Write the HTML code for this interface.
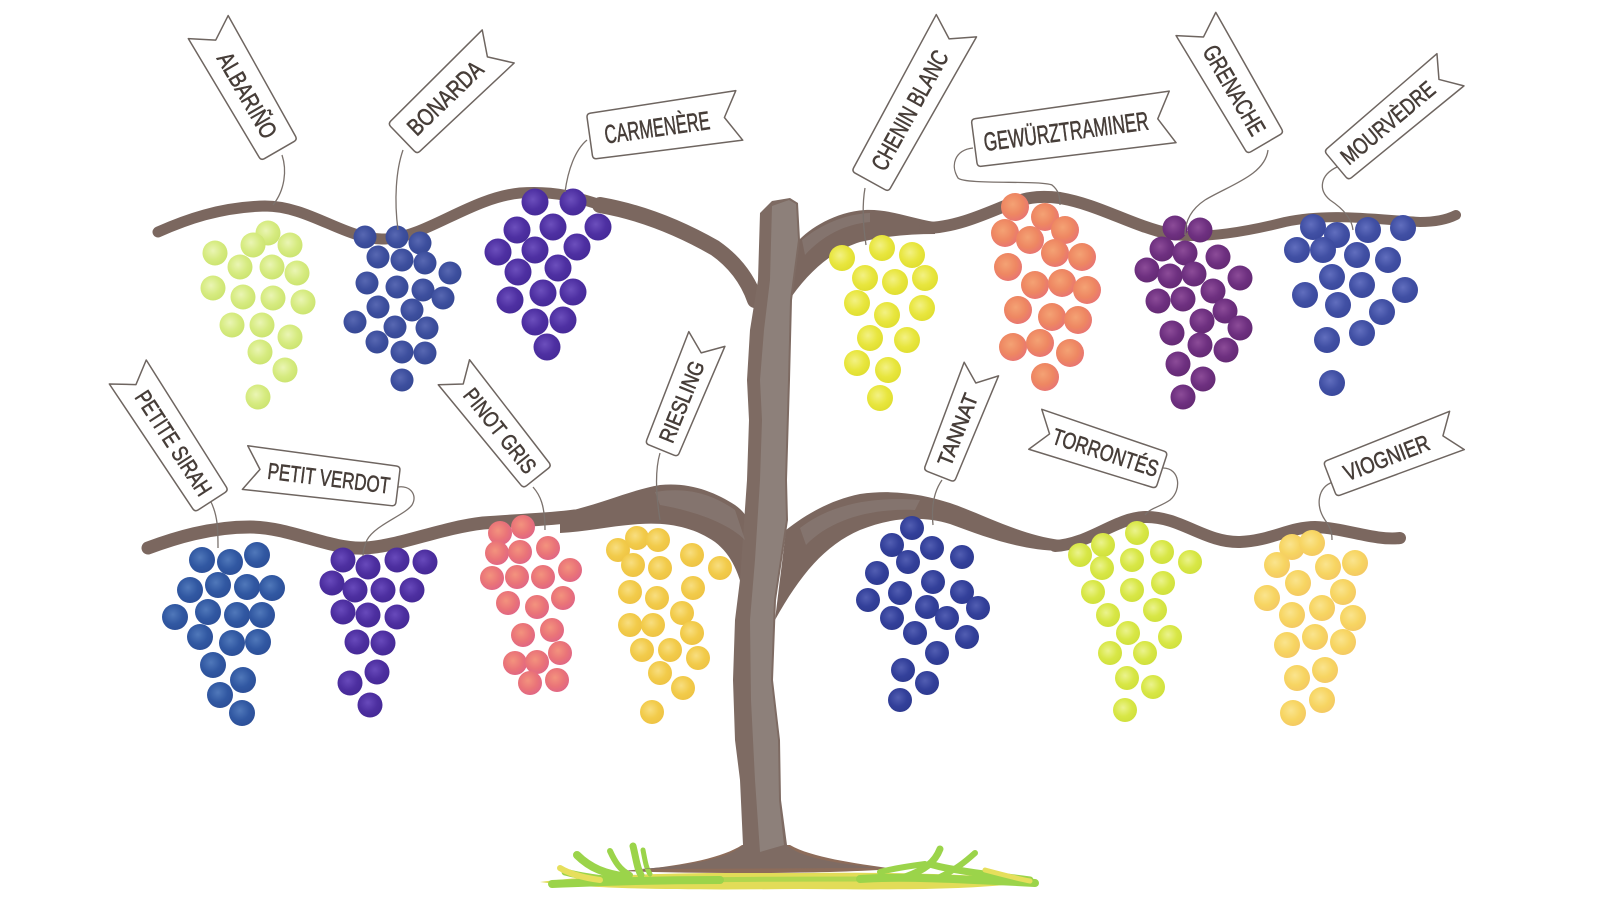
<!DOCTYPE html>
<html><head><meta charset="utf-8"><style>
html,body{margin:0;padding:0;background:#fff;}
svg{display:block;}
.lbl text{font-family:"Liberation Sans Narrow","Liberation Sans",sans-serif;fill:#463d38;stroke:#463d38;stroke-width:0.55;text-anchor:middle;}
.ban{fill:#fff;stroke:#6e6560;stroke-width:1.5;stroke-linejoin:round;}
.str{fill:none;stroke:#7a716c;stroke-width:1.3;}
.br{fill:none;stroke:#7b675f;stroke-linecap:round;stroke-linejoin:round;}
</style></head><body>
<svg width="1600" height="900" viewBox="0 0 1600 900" xmlns="http://www.w3.org/2000/svg">
<defs>
<radialGradient id="g1" cx="0.42" cy="0.4" r="0.62"><stop offset="0" stop-color="#eaf5b4"/><stop offset="0.6" stop-color="#d6eb80"/><stop offset="1" stop-color="#cce470"/></radialGradient>
<radialGradient id="g2" cx="0.42" cy="0.4" r="0.62"><stop offset="0" stop-color="#5868b2"/><stop offset="0.6" stop-color="#3d4f9e"/><stop offset="1" stop-color="#364894"/></radialGradient>
<radialGradient id="g3" cx="0.42" cy="0.4" r="0.62"><stop offset="0" stop-color="#6c4fbc"/><stop offset="0.6" stop-color="#4e30a2"/><stop offset="1" stop-color="#462a98"/></radialGradient>
<radialGradient id="g4" cx="0.42" cy="0.4" r="0.62"><stop offset="0" stop-color="#f3f184"/><stop offset="0.6" stop-color="#e8e63e"/><stop offset="1" stop-color="#e0de30"/></radialGradient>
<radialGradient id="g5" cx="0.42" cy="0.4" r="0.62"><stop offset="0" stop-color="#f4a274"/><stop offset="0.6" stop-color="#ee8762"/><stop offset="1" stop-color="#e87572"/></radialGradient>
<radialGradient id="g6" cx="0.42" cy="0.4" r="0.62"><stop offset="0" stop-color="#8c4c98"/><stop offset="0.6" stop-color="#6e3080"/><stop offset="1" stop-color="#642a74"/></radialGradient>
<radialGradient id="g7" cx="0.42" cy="0.4" r="0.62"><stop offset="0" stop-color="#616ebe"/><stop offset="0.6" stop-color="#4150a4"/><stop offset="1" stop-color="#3a489c"/></radialGradient>
<radialGradient id="g8" cx="0.42" cy="0.4" r="0.62"><stop offset="0" stop-color="#5078ba"/><stop offset="0.6" stop-color="#3158a2"/><stop offset="1" stop-color="#2c4f98"/></radialGradient>
<radialGradient id="g9" cx="0.42" cy="0.4" r="0.62"><stop offset="0" stop-color="#684abb"/><stop offset="0.6" stop-color="#4d2fa0"/><stop offset="1" stop-color="#452996"/></radialGradient>
<radialGradient id="g10" cx="0.42" cy="0.4" r="0.62"><stop offset="0" stop-color="#f3937e"/><stop offset="0.6" stop-color="#ea7478"/><stop offset="1" stop-color="#e06684"/></radialGradient>
<radialGradient id="g11" cx="0.42" cy="0.4" r="0.62"><stop offset="0" stop-color="#f8de80"/><stop offset="0.6" stop-color="#f2cb4a"/><stop offset="1" stop-color="#eec344"/></radialGradient>
<radialGradient id="g12" cx="0.42" cy="0.4" r="0.62"><stop offset="0" stop-color="#525eb2"/><stop offset="0.6" stop-color="#33409a"/><stop offset="1" stop-color="#2e3a90"/></radialGradient>
<radialGradient id="g13" cx="0.42" cy="0.4" r="0.62"><stop offset="0" stop-color="#ebf38e"/><stop offset="0.6" stop-color="#d8e746"/><stop offset="1" stop-color="#d0e03c"/></radialGradient>
<radialGradient id="g14" cx="0.42" cy="0.4" r="0.62"><stop offset="0" stop-color="#fae48e"/><stop offset="0.6" stop-color="#f7d562"/><stop offset="1" stop-color="#f4c962"/></radialGradient>
</defs>

<!-- ground -->
<path d="M540,882 C600,874 700,872 800,873 C900,872 980,874 1038,881 C980,890 900,890 800,889 C700,890 600,890 540,882 Z" fill="#e2dc58"/>
<path d="M620,871 C680,867 722,858 742,845 L790,845 C812,858 860,864 895,869 C820,874 700,874 620,871 Z" fill="#8d6c5a"/>
<g fill="none" stroke="#9bd44a" stroke-linecap="round">
<path d="M552,884 C600,882 650,880 720,880" stroke-width="8"/>
<path d="M565,872 C580,876 600,879 620,880" stroke-width="7"/>
<path d="M577,855 C590,868 605,874 628,877" stroke-width="8"/>
<path d="M610,851 C615,862 620,870 630,875" stroke-width="6"/>
<path d="M633,846 C636,858 637,868 641,875" stroke-width="7"/>
<path d="M643,850 C645,860 646,868 650,874" stroke-width="5"/>
<path d="M940,849 C935,862 925,870 905,877" stroke-width="7"/>
<path d="M975,853 C965,862 955,870 940,877" stroke-width="6"/>
<path d="M930,864 C945,869 975,873 1030,880" stroke-width="7"/>
<path d="M860,879 C900,876 960,879 1035,883" stroke-width="8"/>
<path d="M880,872 C895,868 910,866 925,864" stroke-width="6"/>
<path d="M700,880 C760,879 820,879 860,879" stroke-width="5" opacity="0.7"/>
</g>
<g fill="none" stroke="#e6df5c" stroke-linecap="round">
<path d="M560,868 C570,874 585,878 600,880" stroke-width="6"/>
<path d="M985,870 C1000,874 1015,878 1030,881" stroke-width="5"/>
</g>

<!-- branches -->
<path class="br" stroke-width="11" d="M158,232 C185,220 220,207 265,206 C310,206 345,240 385,239 C425,238 470,198 520,193 C560,190 585,200 610,208"/>
<path class="br" stroke-width="16" d="M600,205 C640,212 680,228 715,248 C735,262 748,280 755,300"/>
<path fill="#7b675f" d="M797,242 C810,228 835,212 865,210 C890,209 910,218 935,222 L935,234 C910,234 885,236 860,242 C835,250 812,268 792,296 Z"/>
<path class="br" stroke-width="12" d="M925,228 C955,228 985,214 1012,203 C1030,196 1045,196 1060,198 C1100,205 1130,225 1170,234"/>
<path class="br" stroke-width="10" d="M1165,234 C1200,240 1245,232 1285,222 C1330,212 1380,220 1420,222 C1440,222 1450,218 1456,215"/>
<path class="br" stroke-width="13" d="M148,548 C175,538 210,527 250,527 C290,527 330,550 365,548 C400,546 440,528 483,523 C520,520 545,520 575,516"/>
<path fill="#7b675f" d="M560,513 C600,505 630,490 660,485 C690,482 715,492 735,505 C742,510 746,515 748,520 L745,600 C740,575 732,555 715,542 C695,528 670,522 640,524 C610,526 585,532 560,533 Z"/>
<path fill="#7b675f" d="M786,530 C805,515 830,500 860,494 C895,489 925,495 950,503 C980,513 1020,535 1060,540 L1060,551 C1020,550 985,537 950,524 C920,515 890,518 860,530 C825,545 800,575 775,620 Z"/>
<path class="br" stroke-width="12" d="M1055,546 C1090,544 1115,518 1145,517 C1180,516 1205,543 1240,542 C1270,541 1290,527 1315,527 C1345,528 1375,541 1400,538"/>

<!-- trunk -->
<path fill="#7e6b63" d="M760,213 L772,201 L790,198 L798,203 L800,240 L792,300 L790,380 L787,480 L788,520 L776,600 L773,680 L780,740 L781,800 L787,845 C800,858 840,864 880,868 L640,869 C690,866 730,858 743,845 L740,780 L735,740 L733,680 L735,620 L740,580 L747,480 L749,420 L747,380 L750,330 L758,280 Z"/>
<path fill="#8d807a" d="M772,206 L789,200 L796,204 L798,240 L790,300 L788,380 L785,480 L786,520 L774,600 L771,680 L778,740 L779,800 L784,845 L760,852 L755,780 L751,700 L750,620 L755,560 L760,480 L762,420 L760,380 L764,330 L770,280 Z"/>
<path fill="#897b75" d="M655,492 C690,486 715,496 735,510 L745,540 C730,525 700,512 660,505 Z" opacity="0.7"/>
<path fill="#897b75" d="M800,528 C830,505 870,496 920,500 L915,510 C870,508 830,520 806,545 Z" opacity="0.7"/>
<path fill="#897b75" d="M802,240 C820,225 845,214 870,213 L870,222 C845,224 822,236 805,255 Z" opacity="0.7"/>

<!-- grapes -->
<g fill="url(#g1)">
<circle cx="268" cy="233" r="12.5"/><circle cx="253" cy="245" r="12.5"/><circle cx="290" cy="245" r="12.5"/><circle cx="215" cy="253" r="12.5"/><circle cx="240" cy="267" r="12.5"/><circle cx="272" cy="267" r="12.5"/><circle cx="297" cy="273" r="12.5"/><circle cx="213" cy="288" r="12.5"/><circle cx="243" cy="297" r="12.5"/><circle cx="273" cy="298" r="12.5"/><circle cx="303" cy="302" r="12.5"/><circle cx="232" cy="325" r="12.5"/><circle cx="262" cy="325" r="12.5"/><circle cx="290" cy="337" r="12.5"/><circle cx="260" cy="352" r="12.5"/><circle cx="285" cy="370" r="12.5"/><circle cx="258" cy="397" r="12.5"/>
</g>
<g fill="url(#g2)">
<circle cx="365" cy="237" r="11.5"/><circle cx="397" cy="237" r="11.5"/><circle cx="420" cy="243" r="11.5"/><circle cx="378" cy="257" r="11.5"/><circle cx="402" cy="260" r="11.5"/><circle cx="425" cy="263" r="11.5"/><circle cx="450" cy="273" r="11.5"/><circle cx="367" cy="283" r="11.5"/><circle cx="397" cy="287" r="11.5"/><circle cx="423" cy="290" r="11.5"/><circle cx="443" cy="298" r="11.5"/><circle cx="378" cy="307" r="11.5"/><circle cx="412" cy="310" r="11.5"/><circle cx="355" cy="322" r="11.5"/><circle cx="395" cy="327" r="11.5"/><circle cx="427" cy="328" r="11.5"/><circle cx="377" cy="342" r="11.5"/><circle cx="402" cy="352" r="11.5"/><circle cx="425" cy="353" r="11.5"/><circle cx="402" cy="380" r="11.5"/>
</g>
<g fill="url(#g3)">
<circle cx="535" cy="202" r="13.5"/><circle cx="573" cy="202" r="13.5"/><circle cx="598" cy="227" r="13.5"/><circle cx="517" cy="230" r="13.5"/><circle cx="553" cy="227" r="13.5"/><circle cx="498" cy="252" r="13.5"/><circle cx="535" cy="250" r="13.5"/><circle cx="577" cy="247" r="13.5"/><circle cx="518" cy="272" r="13.5"/><circle cx="558" cy="268" r="13.5"/><circle cx="510" cy="300" r="13.5"/><circle cx="543" cy="293" r="13.5"/><circle cx="573" cy="292" r="13.5"/><circle cx="535" cy="322" r="13.5"/><circle cx="563" cy="320" r="13.5"/><circle cx="547" cy="347" r="13.5"/>
</g>
<g fill="url(#g4)">
<circle cx="842" cy="258" r="13"/><circle cx="882" cy="248" r="13"/><circle cx="912" cy="255" r="13"/><circle cx="865" cy="278" r="13"/><circle cx="895" cy="282" r="13"/><circle cx="925" cy="278" r="13"/><circle cx="857" cy="303" r="13"/><circle cx="887" cy="315" r="13"/><circle cx="922" cy="308" r="13"/><circle cx="870" cy="338" r="13"/><circle cx="907" cy="340" r="13"/><circle cx="857" cy="363" r="13"/><circle cx="888" cy="370" r="13"/><circle cx="880" cy="398" r="13"/>
</g>
<g fill="url(#g5)">
<circle cx="1015" cy="207" r="14"/><circle cx="1045" cy="217" r="14"/><circle cx="1065" cy="230" r="14"/><circle cx="1005" cy="233" r="14"/><circle cx="1030" cy="240" r="14"/><circle cx="1055" cy="253" r="14"/><circle cx="1082" cy="257" r="14"/><circle cx="1008" cy="267" r="14"/><circle cx="1035" cy="285" r="14"/><circle cx="1062" cy="283" r="14"/><circle cx="1087" cy="290" r="14"/><circle cx="1018" cy="310" r="14"/><circle cx="1052" cy="317" r="14"/><circle cx="1078" cy="320" r="14"/><circle cx="1013" cy="347" r="14"/><circle cx="1040" cy="343" r="14"/><circle cx="1070" cy="353" r="14"/><circle cx="1045" cy="377" r="14"/>
</g>
<g fill="url(#g6)">
<circle cx="1175" cy="228" r="12.5"/><circle cx="1200" cy="230" r="12.5"/><circle cx="1147" cy="270" r="12.5"/><circle cx="1162" cy="249" r="12.5"/><circle cx="1185" cy="253" r="12.5"/><circle cx="1218" cy="257" r="12.5"/><circle cx="1240" cy="278" r="12.5"/><circle cx="1170" cy="276" r="12.5"/><circle cx="1194" cy="274" r="12.5"/><circle cx="1213" cy="291" r="12.5"/><circle cx="1158" cy="301" r="12.5"/><circle cx="1183" cy="299" r="12.5"/><circle cx="1225" cy="311" r="12.5"/><circle cx="1240" cy="328" r="12.5"/><circle cx="1202" cy="321" r="12.5"/><circle cx="1172" cy="333" r="12.5"/><circle cx="1200" cy="345" r="12.5"/><circle cx="1226" cy="350" r="12.5"/><circle cx="1178" cy="364" r="12.5"/><circle cx="1203" cy="379" r="12.5"/><circle cx="1183" cy="397" r="12.5"/>
</g>
<g fill="url(#g7)">
<circle cx="1313" cy="227" r="13"/><circle cx="1337" cy="235" r="13"/><circle cx="1368" cy="230" r="13"/><circle cx="1403" cy="228" r="13"/><circle cx="1297" cy="250" r="13"/><circle cx="1323" cy="250" r="13"/><circle cx="1357" cy="255" r="13"/><circle cx="1388" cy="260" r="13"/><circle cx="1332" cy="277" r="13"/><circle cx="1362" cy="285" r="13"/><circle cx="1405" cy="290" r="13"/><circle cx="1305" cy="295" r="13"/><circle cx="1338" cy="305" r="13"/><circle cx="1382" cy="312" r="13"/><circle cx="1327" cy="340" r="13"/><circle cx="1362" cy="333" r="13"/><circle cx="1332" cy="383" r="13"/>
</g>
<g fill="url(#g8)">
<circle cx="202" cy="560" r="13"/><circle cx="230" cy="562" r="13"/><circle cx="257" cy="555" r="13"/><circle cx="190" cy="590" r="13"/><circle cx="218" cy="585" r="13"/><circle cx="247" cy="587" r="13"/><circle cx="272" cy="588" r="13"/><circle cx="175" cy="617" r="13"/><circle cx="208" cy="612" r="13"/><circle cx="237" cy="615" r="13"/><circle cx="262" cy="615" r="13"/><circle cx="200" cy="637" r="13"/><circle cx="232" cy="643" r="13"/><circle cx="258" cy="642" r="13"/><circle cx="213" cy="665" r="13"/><circle cx="243" cy="680" r="13"/><circle cx="220" cy="695" r="13"/><circle cx="242" cy="713" r="13"/>
</g>
<g fill="url(#g9)">
<circle cx="343" cy="560" r="12.5"/><circle cx="368" cy="567" r="12.5"/><circle cx="397" cy="560" r="12.5"/><circle cx="425" cy="562" r="12.5"/><circle cx="332" cy="583" r="12.5"/><circle cx="355" cy="590" r="12.5"/><circle cx="383" cy="590" r="12.5"/><circle cx="412" cy="590" r="12.5"/><circle cx="343" cy="612" r="12.5"/><circle cx="368" cy="615" r="12.5"/><circle cx="397" cy="617" r="12.5"/><circle cx="357" cy="642" r="12.5"/><circle cx="383" cy="643" r="12.5"/><circle cx="377" cy="672" r="12.5"/><circle cx="350" cy="683" r="12.5"/><circle cx="370" cy="705" r="12.5"/>
</g>
<g fill="url(#g10)">
<circle cx="500" cy="533" r="12"/><circle cx="523" cy="527" r="12"/><circle cx="497" cy="553" r="12"/><circle cx="520" cy="552" r="12"/><circle cx="548" cy="548" r="12"/><circle cx="492" cy="578" r="12"/><circle cx="517" cy="577" r="12"/><circle cx="543" cy="577" r="12"/><circle cx="570" cy="570" r="12"/><circle cx="508" cy="603" r="12"/><circle cx="537" cy="607" r="12"/><circle cx="563" cy="598" r="12"/><circle cx="523" cy="635" r="12"/><circle cx="552" cy="630" r="12"/><circle cx="515" cy="663" r="12"/><circle cx="537" cy="662" r="12"/><circle cx="560" cy="653" r="12"/><circle cx="530" cy="683" r="12"/><circle cx="557" cy="680" r="12"/>
</g>
<g fill="url(#g11)">
<circle cx="618" cy="550" r="12"/><circle cx="637" cy="538" r="12"/><circle cx="658" cy="540" r="12"/><circle cx="692" cy="555" r="12"/><circle cx="720" cy="568" r="12"/><circle cx="633" cy="565" r="12"/><circle cx="660" cy="568" r="12"/><circle cx="630" cy="592" r="12"/><circle cx="657" cy="598" r="12"/><circle cx="693" cy="588" r="12"/><circle cx="630" cy="625" r="12"/><circle cx="653" cy="625" r="12"/><circle cx="682" cy="613" r="12"/><circle cx="692" cy="633" r="12"/><circle cx="642" cy="650" r="12"/><circle cx="670" cy="650" r="12"/><circle cx="698" cy="658" r="12"/><circle cx="660" cy="673" r="12"/><circle cx="683" cy="688" r="12"/><circle cx="652" cy="712" r="12"/>
</g>
<g fill="url(#g12)">
<circle cx="912" cy="528" r="12"/><circle cx="892" cy="545" r="12"/><circle cx="932" cy="548" r="12"/><circle cx="962" cy="557" r="12"/><circle cx="908" cy="562" r="12"/><circle cx="877" cy="573" r="12"/><circle cx="933" cy="582" r="12"/><circle cx="962" cy="592" r="12"/><circle cx="868" cy="600" r="12"/><circle cx="900" cy="593" r="12"/><circle cx="927" cy="607" r="12"/><circle cx="947" cy="618" r="12"/><circle cx="978" cy="608" r="12"/><circle cx="892" cy="618" r="12"/><circle cx="915" cy="633" r="12"/><circle cx="967" cy="637" r="12"/><circle cx="937" cy="653" r="12"/><circle cx="903" cy="670" r="12"/><circle cx="927" cy="683" r="12"/><circle cx="900" cy="700" r="12"/>
</g>
<g fill="url(#g13)">
<circle cx="1080" cy="555" r="12"/><circle cx="1103" cy="545" r="12"/><circle cx="1137" cy="533" r="12"/><circle cx="1162" cy="552" r="12"/><circle cx="1190" cy="562" r="12"/><circle cx="1102" cy="568" r="12"/><circle cx="1132" cy="560" r="12"/><circle cx="1093" cy="592" r="12"/><circle cx="1132" cy="590" r="12"/><circle cx="1163" cy="583" r="12"/><circle cx="1108" cy="615" r="12"/><circle cx="1155" cy="610" r="12"/><circle cx="1128" cy="633" r="12"/><circle cx="1170" cy="637" r="12"/><circle cx="1110" cy="653" r="12"/><circle cx="1145" cy="653" r="12"/><circle cx="1127" cy="678" r="12"/><circle cx="1153" cy="687" r="12"/><circle cx="1125" cy="710" r="12"/>
</g>
<g fill="url(#g14)">
<circle cx="1292" cy="547" r="13"/><circle cx="1312" cy="543" r="13"/><circle cx="1277" cy="565" r="13"/><circle cx="1328" cy="567" r="13"/><circle cx="1355" cy="563" r="13"/><circle cx="1298" cy="583" r="13"/><circle cx="1343" cy="592" r="13"/><circle cx="1267" cy="598" r="13"/><circle cx="1292" cy="615" r="13"/><circle cx="1322" cy="608" r="13"/><circle cx="1353" cy="618" r="13"/><circle cx="1287" cy="645" r="13"/><circle cx="1315" cy="637" r="13"/><circle cx="1343" cy="642" r="13"/><circle cx="1297" cy="678" r="13"/><circle cx="1325" cy="670" r="13"/><circle cx="1293" cy="713" r="13"/><circle cx="1322" cy="700" r="13"/>
</g>

<!-- strings -->
<path class="str" d="M282,155 C287,170 285,190 273,205"/>
<path class="str" d="M403,150 C396,170 394,200 398,230"/>
<path class="str" d="M587,140 C575,150 568,170 565,192"/>
<path class="str" d="M865,188 C862,205 863,225 866,245"/>
<path class="str" d="M973,148 C955,150 950,165 958,178 C965,185 1040,180 1052,185 C1058,190 1060,195 1060,205"/>
<path class="str" d="M1268,150 C1265,175 1230,185 1205,200 C1190,210 1185,222 1185,235"/>
<path class="str" d="M1337,167 C1320,175 1318,190 1330,200 C1345,210 1352,220 1353,230"/>
<path class="str" d="M210,500 C218,515 218,530 218,548"/>
<path class="str" d="M398,487 C410,485 418,495 412,505 C405,515 375,525 367,540 C364,547 363,552 363,556"/>
<path class="str" d="M533,487 C540,495 545,505 545,530"/>
<path class="str" d="M660,453 C655,470 656,495 660,520"/>
<path class="str" d="M942,480 C935,490 931,505 933,525"/>
<path class="str" d="M1163,468 C1180,468 1182,490 1170,500 C1160,507 1150,508 1145,515"/>
<path class="str" d="M1333,482 C1318,487 1315,505 1325,520 C1331,528 1332,533 1332,540"/>

<!-- labels -->
<g class="lbl">
<g transform="translate(244,89) rotate(60)">
<path class="ban" d="M66.5,-21 L-71.5,-23 L-56.5,0 L-71.5,23 L66.5,21 Q70.5,21 70.5,17 L70.5,-17 Q70.5,-21 66.5,-21 Z"/>
<text x="7" y="8.6" font-size="24" textLength="95" lengthAdjust="spacingAndGlyphs">ALBARIÑO</text></g>
<g transform="translate(450,93) rotate(-44)">
<path class="ban" d="M-62,-21 L67,-23 L52,0 L67,23 L-62,21 Q-66,21 -66,17 L-66,-17 Q-66,-21 -62,-21 Z"/>
<text x="-7" y="8.6" font-size="24" textLength="95" lengthAdjust="spacingAndGlyphs">BONARDA</text></g>
<g transform="translate(664,126) rotate(-8)">
<path class="ban" d="M-71,-23 L76,-25 L61,0 L76,25 L-71,23 Q-75,23 -75,19 L-75,-19 Q-75,-23 -71,-23 Z"/>
<text x="-7" y="9.4" font-size="26" textLength="106" lengthAdjust="spacingAndGlyphs">CARMENÈRE</text></g>
<g transform="translate(913,104) rotate(-61)">
<path class="ban" d="M-84.5,-21 L89.5,-23 L74.5,0 L89.5,23 L-84.5,21 Q-88.5,21 -88.5,17 L-88.5,-17 Q-88.5,-21 -84.5,-21 Z"/>
<text x="-7" y="8.6" font-size="24" textLength="133" lengthAdjust="spacingAndGlyphs">CHENIN BLANC</text></g>
<g transform="translate(1073,130) rotate(-7.5)">
<path class="ban" d="M-95.5,-24 L100.5,-26 L85.5,0 L100.5,26 L-95.5,24 Q-99.5,24 -99.5,20 L-99.5,-20 Q-99.5,-24 -95.5,-24 Z"/>
<text x="-7" y="9.4" font-size="26" textLength="166" lengthAdjust="spacingAndGlyphs">GEWÜRZTRAMINER</text></g>
<g transform="translate(1231,84) rotate(59.7)">
<path class="ban" d="M64.5,-21 L-69.5,-23 L-54.5,0 L-69.5,23 L64.5,21 Q68.5,21 68.5,17 L68.5,-17 Q68.5,-21 64.5,-21 Z"/>
<text x="7" y="8.6" font-size="24" textLength="100" lengthAdjust="spacingAndGlyphs">GRENACHE</text></g>
<g transform="translate(1393,118) rotate(-40)">
<path class="ban" d="M-70,-19 L75,-21 L60,0 L75,21 L-70,19 Q-74,19 -74,15 L-74,-15 Q-74,-19 -70,-19 Z"/>
<text x="-7" y="8.3" font-size="23" textLength="115" lengthAdjust="spacingAndGlyphs">MOURVÈDRE</text></g>
<g transform="translate(170,437) rotate(57)">
<path class="ban" d="M72.5,-20 L-77.5,-22 L-62.5,0 L-77.5,22 L72.5,20 Q76.5,20 76.5,16 L76.5,-16 Q76.5,-20 72.5,-20 Z"/>
<text x="7" y="8.3" font-size="23" textLength="120" lengthAdjust="spacingAndGlyphs">PETITE SIRAH</text></g>
<g transform="translate(322,477) rotate(7)">
<path class="ban" d="M72.5,-20 L-77.5,-22 L-62.5,0 L-77.5,22 L72.5,20 Q76.5,20 76.5,16 L76.5,-16 Q76.5,-20 72.5,-20 Z"/>
<text x="7" y="8.3" font-size="23" textLength="123" lengthAdjust="spacingAndGlyphs">PETIT VERDOT</text></g>
<g transform="translate(496,425) rotate(51.4)">
<path class="ban" d="M62.5,-18 L-67.5,-20 L-52.5,0 L-67.5,20 L62.5,18 Q66.5,18 66.5,14 L66.5,-14 Q66.5,-18 62.5,-18 Z"/>
<text x="7" y="8" font-size="22" textLength="102" lengthAdjust="spacingAndGlyphs">PINOT GRIS</text></g>
<g transform="translate(684,395) rotate(-67.8)">
<path class="ban" d="M-55.5,-17.5 L60.5,-19.5 L45.5,0 L60.5,19.5 L-55.5,17.5 Q-59.5,17.5 -59.5,13.5 L-59.5,-13.5 Q-59.5,-17.5 -55.5,-17.5 Z"/>
<text x="-7" y="8" font-size="22" textLength="86" lengthAdjust="spacingAndGlyphs">RIESLING</text></g>
<g transform="translate(960,423) rotate(-68.4)">
<path class="ban" d="M-53,-16.5 L58,-18.5 L43,0 L58,18.5 L-53,16.5 Q-57,16.5 -57,12.5 L-57,-12.5 Q-57,-16.5 -53,-16.5 Z"/>
<text x="-7" y="7.6" font-size="21" textLength="76" lengthAdjust="spacingAndGlyphs">TANNAT</text></g>
<g transform="translate(1099,450) rotate(18)">
<path class="ban" d="M62,-19 L-67,-21 L-52,0 L-67,21 L62,19 Q66,19 66,15 L66,-15 Q66,-19 62,-19 Z"/>
<text x="7" y="8.3" font-size="23" textLength="110" lengthAdjust="spacingAndGlyphs">TORRONTÉS</text></g>
<g transform="translate(1393,455) rotate(-21)">
<path class="ban" d="M-63.5,-18.5 L68.5,-20.5 L53.5,0 L68.5,20.5 L-63.5,18.5 Q-67.5,18.5 -67.5,14.5 L-67.5,-14.5 Q-67.5,-18.5 -63.5,-18.5 Z"/>
<text x="-7" y="8.3" font-size="23" textLength="90" lengthAdjust="spacingAndGlyphs">VIOGNIER</text></g>
</g>
</svg>
</body></html>
